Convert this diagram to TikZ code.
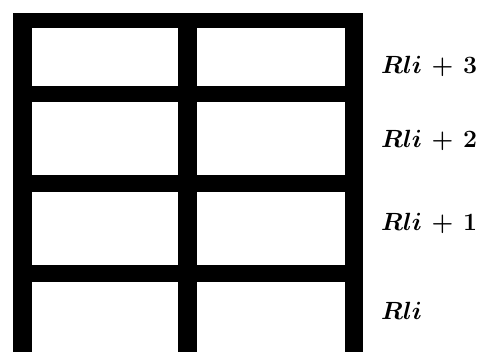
\documentclass[tikz,border=0pt]{standalone}
\usepackage{amsmath,bm}
\begin{document}
\begin{tikzpicture}[x=1pt,y=-1pt,
  member/.style={fill=black,draw=none},
  lbl/.style={anchor=base west,inner sep=0pt,font=\fontsize{29}{33}\selectfont}]
\useasboundingbox (0,0) rectangle (487,352);
% columns
\fill[member] (13,13) rectangle (32,352);
\fill[member] (178,13) rectangle (197,352);
\fill[member] (345,13) rectangle (363,352);
% beams
\fill[member] (13,13) rectangle (363,28);
\fill[member] (13,86) rectangle (363,102);
\fill[member] (13,175) rectangle (363,192);
\fill[member] (13,265) rectangle (363,282);
% labels
\node[lbl] (l3) at (381,74) {$\medmuskip=7mu\boldsymbol{Rli+3}$};
\node[lbl] (l2) at (381,148) {$\medmuskip=7mu\boldsymbol{Rli+2}$};
\node[lbl] (l1) at (381,231) {$\medmuskip=7mu\boldsymbol{Rli+1}$};
\node[lbl] (l0) at (381,320) {$\boldsymbol{Rli}$};
\end{tikzpicture}
\end{document}
